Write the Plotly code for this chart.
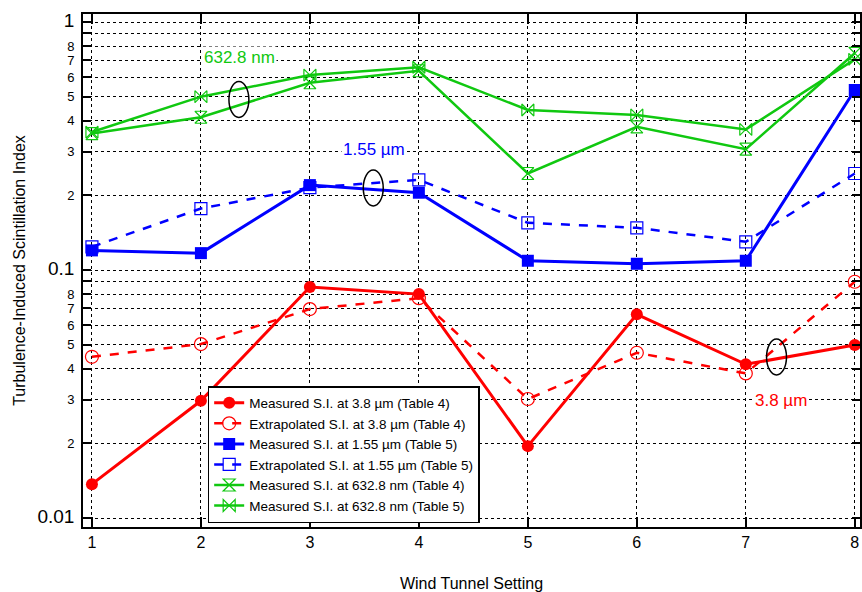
import plotly.graph_objects as go

settings = [1, 2, 3, 4, 5, 6, 7, 8]
red_measured = [0.0137, 0.0297, 0.0854, 0.080, 0.0195, 0.0663, 0.0417, 0.0499]
red_extrap = [0.0447, 0.0503, 0.0696, 0.077, 0.0302, 0.0464, 0.0383, 0.0897]
blue_measured = [0.120, 0.117, 0.220, 0.205, 0.109, 0.106, 0.109, 0.532]
blue_extrap = [0.124, 0.177, 0.215, 0.231, 0.155, 0.148, 0.130, 0.245]
green_t4 = [0.355, 0.413, 0.569, 0.636, 0.245, 0.378, 0.307, 0.748]
green_t5 = [0.360, 0.500, 0.611, 0.657, 0.442, 0.422, 0.369, 0.707]

names = [
    "Measured S.I. at 3.8 µm (Table 4)",
    "Extrapolated S.I. at 3.8 µm (Table 4)",
    "Measured S.I. at 1.55 µm (Table 5)",
    "Extrapolated S.I. at 1.55 µm (Table 5)",
    "Measured S.I. at 632.8 nm (Table 4)",
    "Measured S.I. at 632.8 nm (Table 5)",
]

RED = "#ff0000"
BLUE = "#0000ff"
GREEN = "#10c810"

W, H = 862, 592
ML, MR, MT, MB = 83, 0, 14, 65
PW, PH = W - ML - MR, H - MT - MB


def px(xp):
    return (xp - ML) / PW


def py(yp):
    return (H - MB - yp) / PH


fig = go.Figure()
fig.add_trace(go.Scatter(x=settings, y=red_measured, name=names[0], mode="lines+markers",
                         line=dict(color=RED, width=3), marker=dict(symbol="circle", size=12, color=RED)))
fig.add_trace(go.Scatter(x=settings, y=red_extrap, name=names[1], mode="lines+markers",
                         line=dict(color=RED, width=2.5, dash="dash"),
                         marker=dict(symbol="circle-open", size=13, color=RED, line=dict(width=1.2))))
fig.add_trace(go.Scatter(x=settings, y=blue_measured, name=names[2], mode="lines+markers",
                         line=dict(color=BLUE, width=3), marker=dict(symbol="square", size=12, color=BLUE)))
fig.add_trace(go.Scatter(x=settings, y=blue_extrap, name=names[3], mode="lines+markers",
                         line=dict(color=BLUE, width=2.5, dash="dash"),
                         marker=dict(symbol="square-open", size=12, color=BLUE, line=dict(width=1.2))))
fig.add_trace(go.Scatter(x=settings, y=green_t4, name=names[4], mode="lines+markers",
                         line=dict(color=GREEN, width=2.5),
                         marker=dict(symbol="hourglass-open", size=12, color=GREEN, line=dict(width=1.2))))
fig.add_trace(go.Scatter(x=settings, y=green_t5, name=names[5], mode="lines+markers",
                         line=dict(color=GREEN, width=2.5),
                         marker=dict(symbol="bowtie-open", size=12, color=GREEN, line=dict(width=1.2))))

# y ticks
tickvals, ticktext = [], []
for d in [0.01, 0.1, 1]:
    tickvals.append(d)
    ticktext.append('<span style="font-size:19px">%s</span>' % ("%g" % d))
    for k in range(2, 10):
        v = k * d
        if v > 1.07:
            continue
        tickvals.append(v)
        ticktext.append(str(k) if k < 9 else "")

fig.update_layout(
    width=W, height=H,
    margin=dict(l=ML, r=MR, t=MT, b=MB),
    paper_bgcolor="white", plot_bgcolor="white",
    font=dict(family="Arial, Liberation Sans, sans-serif", color="black"),
    showlegend=True,
    legend=dict(x=px(208), y=py(523), xanchor="left", yanchor="bottom",
                bgcolor="white", bordercolor="black", borderwidth=1.5,
                font=dict(size=13.5), itemwidth=30, tracegroupgap=0),
    xaxis=dict(range=[0.918, 8.048], tickvals=settings, ticks="inside", ticklen=10,
               tickwidth=1.5, tickcolor="black", mirror="allticks", showline=True,
               linecolor="black", linewidth=2, showgrid=True, gridcolor="black",
               griddash="dot", gridwidth=1, zeroline=False, tickfont=dict(size=16),
               title=dict(text="Wind Tunnel Setting", font=dict(size=16), standoff=28)),
    yaxis=dict(type="log", range=[-2.036, 0.0323], tickvals=tickvals, ticktext=ticktext,
               ticks="inside", ticklen=8, tickwidth=1.5, tickcolor="black",
               mirror="allticks", showline=True, linecolor="black", linewidth=2,
               showgrid=True, gridcolor="black", griddash="dot", gridwidth=1,
               tickfont=dict(size=13), ticklabelstandoff=4,
               title=dict(text="Turbulence-Induced Scintillation Index", font=dict(size=16), standoff=8)),
)

# wavelength labels
labels = [("632.8 nm", 239.5, 57, GREEN), ("1.55 µm", 375, 149, BLUE), ("3.8 µm", 783, 400, RED)]
for txt, x0, y0, c in labels:
    fig.add_annotation(text=txt, x=px(x0), y=py(y0), xref="paper", yref="paper",
                       showarrow=False, xanchor="center", yanchor="middle",
                       font=dict(size=17, color=c), bgcolor="white")

# grouping ellipses
ellipses = [(239.3, 99.5), (374, 188), (778.3, 357)]
for cx, cy in ellipses:
    fig.add_shape(type="circle", xref="paper", yref="paper",
                  x0=px(cx - 10), x1=px(cx + 10), y0=py(cy + 18), y1=py(cy - 18),
                  line=dict(color="black", width=1.5))

fig.write_html("out.html", config={"displayModeBar": False},
               post_script="document.body.style.margin='0';document.body.style.overflow='hidden';")
